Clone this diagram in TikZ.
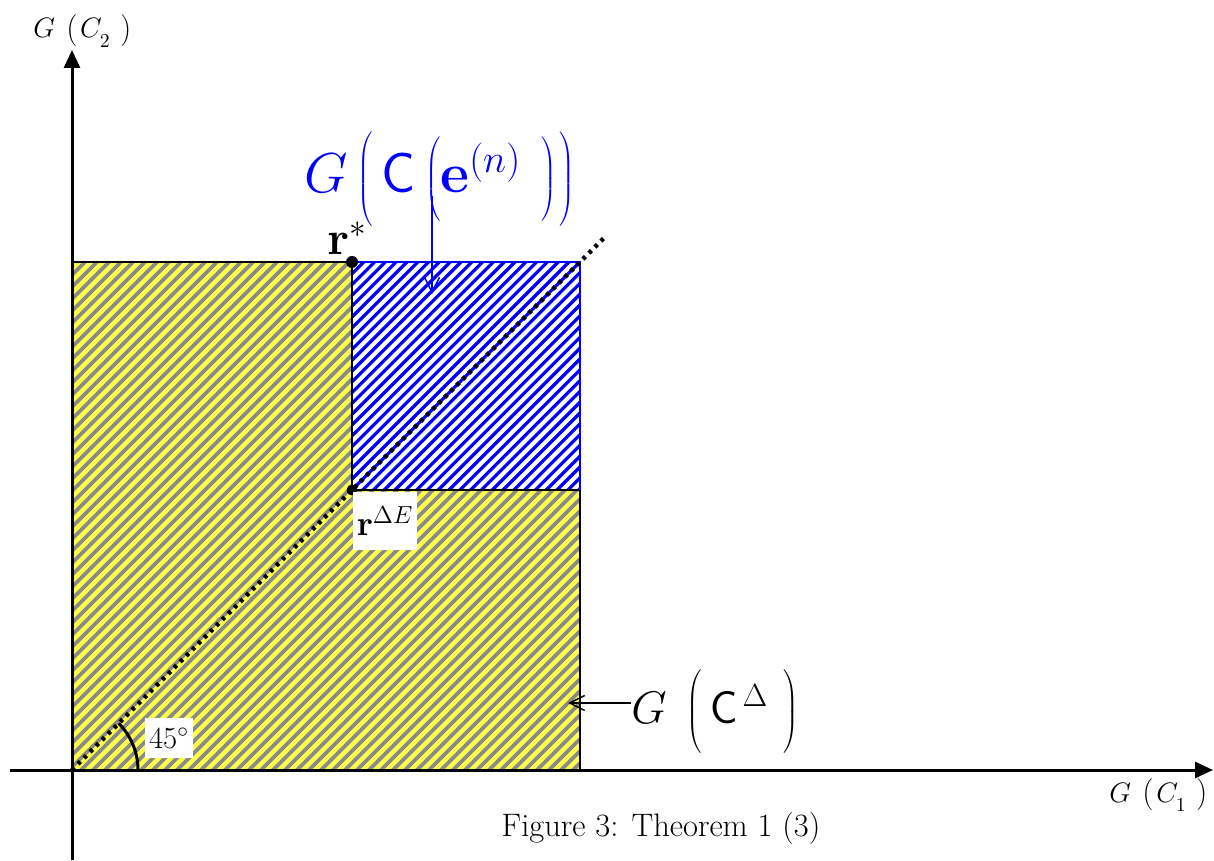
\documentclass[tikz,border=0pt]{standalone}
\usepackage{fix-cm}
\usepackage{xcolor}
\usepackage{tikz}
\usetikzlibrary{arrows.meta}
\definecolor{FigYellow}{HTML}{FFFF4A}
\definecolor{FigGrey}{HTML}{8A8A8A}
\definecolor{FigBlue}{HTML}{0000FF}

\begin{document}
\begin{tikzpicture}[x=1cm,y=1cm,
  axis/.style={line width=0.06cm,-{Triangle[length=0.36cm,width=0.32cm]}},
  pointer/.style={line width=0.03cm,-{Straight Barb[length=0.3cm,width=0.3cm]}},
  whitebox/.style={fill=white,inner sep=0pt},
  mathlabel/.style={anchor=base west,inner sep=0pt}]
\path[use as bounding box] (0,0) rectangle (24.28,17.20);
\coordinate (O) at (1.44,1.80);
\coordinate (rStarPt) at (7.04,11.96);
\coordinate (rDeltaPt) at (7.04,7.40);
% yellow region
\begin{scope}
\clip (1.44,1.80) -- (1.44,11.96) -- (7.04,11.96) -- (7.04,7.40) -- (11.60,7.40) -- (11.60,1.80) -- cycle;
\fill[FigYellow] (1.44,1.80) rectangle (11.60,11.96);
\foreach \k in {0,...,86}
  \draw[FigGrey,line width=0.075cm] ({-8.80+0.24*\k},1.70) -- ++(10.4,10.4);
\end{scope}
% blue region
\begin{scope}
\clip (7.04,7.40) rectangle (11.60,11.96);
\foreach \k in {0,...,44}
  \draw[FigBlue,line width=0.065cm] ({2.40+0.216*\k},7.30) -- ++(4.8,4.8);
\end{scope}
\draw[line width=0.04cm] (1.44,1.80) -- (1.44,11.96) -- (rStarPt) -- (rDeltaPt) -- (11.60,7.40) -- (11.60,1.80) -- cycle;
\draw[FigBlue,line width=0.04cm] (rStarPt) -- (11.60,11.96) -- (11.60,7.40);
\draw[line width=0.09cm,dash pattern=on 0.07cm off 0.10cm] (O) -- (12.10,12.46);
\fill (rStarPt) circle (0.12);
\fill (rDeltaPt) circle (0.11);
% angle
\draw[line width=0.06cm] (2.76,1.80) arc[start angle=0,end angle=45,radius=1.32];
\node[whitebox,minimum width=0.96cm,minimum height=0.80cm] (lblAngle) at (3.38,2.44) {\fontsize{17.5}{20}\selectfont $45^{\circ}$};
% labels
\node[mathlabel] (lblStar) at (6.54,12.10) {\fontsize{27}{32}\selectfont $\mathbf{r}^{*}$};
\node[whitebox,minimum width=1.28cm,minimum height=1.16cm] (lblDelta) at (7.70,6.78) {\fontsize{20}{24}\selectfont $\mathbf{r}^{\Delta E}$};
\node[mathlabel,FigBlue] (lblBlue) at (6.08,13.34) {\fontsize{32}{37}\selectfont
  $G\left(\vrule height 1.24cm depth 0.66cm width 0pt\,\mathsf{C}\left(\vrule height 1.20cm depth 0.62cm width 0pt\mathbf{e}^{(n)}\hspace{0.4cm}\right)\hspace{0.06cm}\right)$};
\coordinate (blueTail) at (8.64,13.28);
\coordinate (blueHead) at (8.64,11.32);
\draw[pointer,FigBlue] (blueTail) -- (blueHead);
\node[mathlabel] (lblCDelta) at (12.62,2.74) {\fontsize{26}{31}\selectfont
  $G\;\left(\vrule height 1.05cm depth 0.55cm width 0pt\,\mathsf{C}^{\,\Delta}\hspace{0.3cm}\right)$};
\coordinate (deltaHead) at (11.36,3.14);
\draw[pointer] (lblCDelta.west |- deltaHead) -- (deltaHead);
% axes
\coordinate (xEnd) at (24.26,1.80);
\coordinate (yEnd) at (1.44,16.20);
\draw[axis] (0.20,1.80) -- (xEnd);
\draw[axis] (1.44,0) -- (yEnd);
\node[mathlabel] (lblC2) at (0.66,16.44) {\fontsize{16}{19}\selectfont
  $G\hspace{0.14cm}\left(\vrule height 0.45cm depth 0.18cm width 0pt\hspace{0.06cm}C_{\lower0.1cm\hbox{$\scriptstyle 2$}}\hspace{0.22cm}\right)$};
\node[mathlabel] (lblC1) at (22.18,1.16) {\fontsize{16}{19}\selectfont
  $G\hspace{0.14cm}\left(\vrule height 0.45cm depth 0.18cm width 0pt\hspace{0.06cm}C_{\lower0.1cm\hbox{$\scriptstyle 1$}}\hspace{0.22cm}\right)$};
\node (caption) at (13.22,0.64) {\fontsize{18.5}{22}\selectfont Figure 3: Theorem 1 (3)};
\end{tikzpicture}
\end{document}
